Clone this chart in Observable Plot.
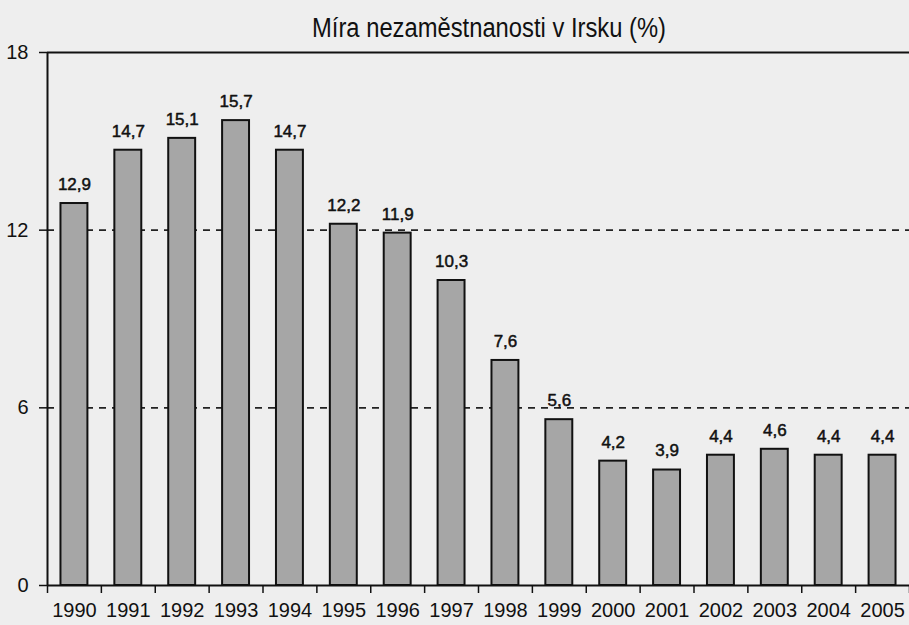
<!DOCTYPE html>
<html>
<head>
<meta charset="utf-8">
<script src="https://cdn.jsdelivr.net/npm/d3@7"></script>
<script src="https://cdn.jsdelivr.net/npm/@observablehq/plot@0.6"></script>
<style>
  html, body { margin: 0; padding: 0; background: #eeeeee; }
  #wrap { position: relative; width: 909px; height: 625px; overflow: hidden; background: #eeeeee; }
  #title { position: absolute; left: 489px; top: 12px; white-space: nowrap;
           font-family: "Liberation Sans", Arial, sans-serif; line-height: 32px;
           font-size: 27px; color: #111; transform: translateX(-50%) scaleX(0.88); transform-origin: center; }
  #chart { position: absolute; left: 0; top: 40px; }
</style>
</head>
<body>
<div id="wrap">
  <div id="title">Míra nezaměstnanosti v Irsku (%)</div>
  <div id="chart"></div>
</div>
<script>
const years = [1990, 1991, 1992, 1993, 1994, 1995, 1996, 1997, 1998, 1999, 2000, 2001, 2002, 2003, 2004, 2005];
const rates = [12.9, 14.7, 15.1, 15.7, 14.7, 12.2, 11.9, 10.3, 7.6, 5.6, 4.2, 3.9, 4.4, 4.6, 4.4, 4.4];
const yTicks = [0, 6, 12, 18];
const dashedLevels = [6, 12];

const data = years.map((y, i) => ({year: y, rate: rates[i]}));
const boundaries = years.map(y => y - 0.5).concat([years[years.length - 1] + 0.5]);
const fmt = v => v.toFixed(1).replace(".", ",");

const sans = '"Liberation Sans", Arial, sans-serif';

const plot = Plot.plot({
  width: 909,
  height: 585,
  marginTop: 12,
  marginBottom: 40,
  marginLeft: 47,
  marginRight: 0,
  style: {background: "transparent", fontFamily: sans, color: "#111"},
  x: {type: "linear", domain: [1989.5, 2005.5], axis: null, label: null},
  y: {domain: [0, 18], axis: null, label: null},
  marks: [
    Plot.ruleY(dashedLevels, {stroke: "#222", strokeWidth: 1.8, strokeDasharray: "7,6"}),
    Plot.ruleY([18], {stroke: "#111", strokeWidth: 2}),
    Plot.rectY(data, {x1: d => d.year - 0.25, x2: d => d.year + 0.25, y: "rate",
                      fill: "#a6a6a6", stroke: "#111", strokeWidth: 2}),
    Plot.text(data, {x: "year", y: "rate", text: d => fmt(d.rate), lineAnchor: "middle", dy: -19,
                     fontSize: 17, fontFamily: sans, fill: "#111", stroke: "#111", strokeWidth: 0.5}),
    Plot.ruleY([0], {stroke: "#111", strokeWidth: 2}),
    Plot.ruleX([1989.5], {stroke: "#111", strokeWidth: 2}),
    Plot.axisX(boundaries, {tickSize: 8, tickFormat: () => "", label: null, stroke: "#111", strokeWidth: 1.5}),
    Plot.axisX(years, {tickSize: 0, tickPadding: 17, tickFormat: d => String(d), label: null,
                       fontSize: 20, fill: "#111", stroke: "#111", strokeWidth: 0.5}),
    Plot.axisY(yTicks, {tickSize: 8, tickPadding: 11, fontSize: 20, label: null,
                        stroke: "#111", strokeWidth: 1.5, fill: "#111"})
  ]
});
// y tick labels should not inherit the heavy tick stroke
d3.select(plot).selectAll("g[aria-label='y-axis tick label'] text").attr("stroke-width", 0.3);
document.getElementById("chart").appendChild(plot);
</script>
</body>
</html>
